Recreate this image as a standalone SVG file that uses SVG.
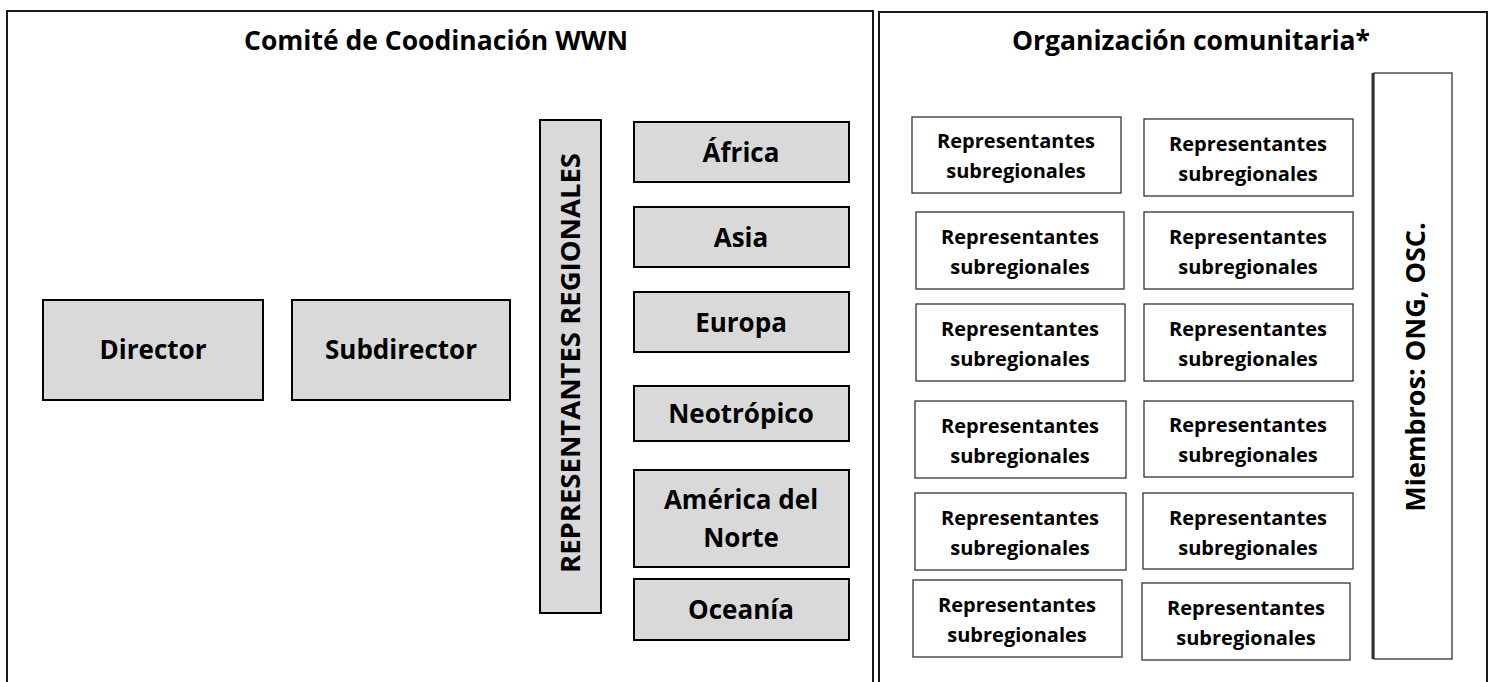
<svg xmlns="http://www.w3.org/2000/svg" width="1494" height="682" viewBox="0 0 1494 682">
<style>
text{font-family:"Open Sans","Liberation Sans",sans-serif;font-weight:bold;fill:#000;text-anchor:middle}
.frame{fill:none;stroke:#1a1a1a;stroke-width:2}
.gray{fill:#d9d9d9;stroke:#000;stroke-width:2}
.sub{fill:#fff;stroke:#333;stroke-width:1.3}
.title{font-size:26.5px}
.big{font-size:26px}
.small{font-size:20px}
</style>
<rect width="1494" height="682" fill="#fff"/>
<g id="frame-left"><rect class="frame" x="7" y="11" width="866" height="690"/><text class="title" x="436" y="50">Comité de Coodinación WWN</text></g>
<g id="frame-right"><rect class="frame" x="879" y="12" width="608" height="690"/><text class="title" x="1191" y="50">Organización comunitaria*</text></g>
<g id="director"><rect class="gray" x="43" y="300" width="220" height="100"/><text class="big" x="153" y="359">Director</text></g>
<g id="subdirector"><rect class="gray" x="292" y="300" width="218" height="100"/><text class="big" x="401" y="359">Subdirector</text></g>
<g id="representantes-regionales"><rect class="gray" x="540" y="120" width="61" height="493"/><text font-size="27.5" transform="translate(580,363) rotate(-90)">REPRESENTANTES REGIONALES</text></g>
<g id="africa"><rect class="gray" x="634" y="122" width="215" height="60"/><text class="big" x="741" y="162">África</text></g>
<g id="asia"><rect class="gray" x="634" y="207" width="215" height="60"/><text class="big" x="741" y="247">Asia</text></g>
<g id="europa"><rect class="gray" x="634" y="292" width="215" height="60"/><text class="big" x="741" y="332">Europa</text></g>
<g id="neotropico"><rect class="gray" x="634" y="386" width="215" height="55"/><text class="big" x="741" y="423">Neotrópico</text></g>
<g id="america-del-norte"><rect class="gray" x="634" y="470" width="215" height="97"/><text class="big" x="741" y="509">América del</text><text class="big" x="741" y="547">Norte</text></g>
<g id="oceania"><rect class="gray" x="634" y="579" width="215" height="61"/><text class="big" x="741" y="619">Oceanía</text></g>
<g id="sub-1a"><rect class="sub" x="912" y="117" width="209" height="76"/><text class="small" x="1016" y="148">Representantes</text><text class="small" x="1016" y="178">subregionales</text></g>
<g id="sub-1b"><rect class="sub" x="1144" y="119" width="209" height="77"/><text class="small" x="1248" y="151">Representantes</text><text class="small" x="1248" y="181">subregionales</text></g>
<g id="sub-2a"><rect class="sub" x="916" y="212" width="208" height="77"/><text class="small" x="1020" y="244">Representantes</text><text class="small" x="1020" y="274">subregionales</text></g>
<g id="sub-2b"><rect class="sub" x="1144" y="212" width="209" height="77"/><text class="small" x="1248" y="244">Representantes</text><text class="small" x="1248" y="274">subregionales</text></g>
<g id="sub-3a"><rect class="sub" x="916" y="304" width="209" height="77"/><text class="small" x="1020" y="336">Representantes</text><text class="small" x="1020" y="366">subregionales</text></g>
<g id="sub-3b"><rect class="sub" x="1144" y="304" width="209" height="77"/><text class="small" x="1248" y="336">Representantes</text><text class="small" x="1248" y="366">subregionales</text></g>
<g id="sub-4a"><rect class="sub" x="915" y="401" width="211" height="77"/><text class="small" x="1020" y="433">Representantes</text><text class="small" x="1020" y="463">subregionales</text></g>
<g id="sub-4b"><rect class="sub" x="1144" y="401" width="209" height="76"/><text class="small" x="1248" y="432">Representantes</text><text class="small" x="1248" y="462">subregionales</text></g>
<g id="sub-5a"><rect class="sub" x="915" y="493" width="211" height="77"/><text class="small" x="1020" y="525">Representantes</text><text class="small" x="1020" y="555">subregionales</text></g>
<g id="sub-5b"><rect class="sub" x="1143" y="493" width="210" height="76"/><text class="small" x="1248" y="525">Representantes</text><text class="small" x="1248" y="555">subregionales</text></g>
<g id="sub-6a"><rect class="sub" x="913" y="580" width="209" height="77"/><text class="small" x="1017" y="612">Representantes</text><text class="small" x="1017" y="642">subregionales</text></g>
<g id="sub-6b"><rect class="sub" x="1142" y="583" width="208" height="77"/><text class="small" x="1246" y="615">Representantes</text><text class="small" x="1246" y="645">subregionales</text></g>
<g id="miembros"><line x1="1373" y1="73" x2="1373" y2="659" stroke="#333" stroke-width="3"/><rect class="sub" x="1374" y="73" width="78" height="586"/><text font-size="27" transform="translate(1425,367) rotate(-90)">Miembros: ONG, OSC.</text></g>
<g id="connectors"></g>
</svg>
